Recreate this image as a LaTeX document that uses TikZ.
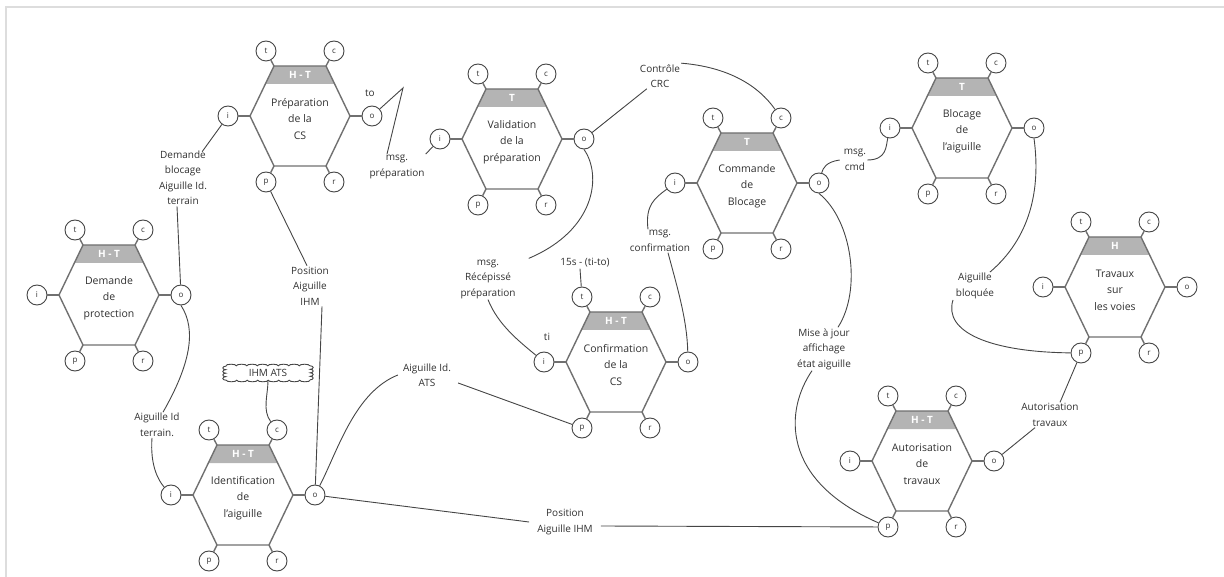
\documentclass[tikz,border=0pt]{standalone}
\usepackage{fontspec}
\setmainfont{Open Sans}
\usepackage{tikz}
\usetikzlibrary{decorations.pathmorphing}

\definecolor{hexgray}{HTML}{707070}
\definecolor{bandgray}{HTML}{B4B4B4}
\definecolor{linegray}{HTML}{454545}
\definecolor{textdark}{HTML}{303030}
\definecolor{framegray}{HTML}{DDDDDD}

\tikzset{
  hexline/.style={draw=hexgray, line width=1.4pt},
  port/.style={circle, draw=linegray, fill=white, line width=0.9pt, minimum size=20pt,
    inner sep=0pt, font=\fontsize{8}{8}\selectfont, text=textdark},
  hextext/.style={align=center, font=\fontsize{10.5}{16.5}\selectfont, text=textdark},
  bandtext/.style={text=white, font=\fontsize{10}{10}\selectfont\bfseries},
  msgtext/.style={align=center, font=\fontsize{10}{15.5}\selectfont, text=textdark, inner sep=1pt},
  link/.style={draw=linegray, line width=0.9pt},
  cloudlong/.style={link, decorate, decoration={bumps, segment length=21pt, amplitude=1.6pt}},
  cloudend/.style={link, decorate, decoration={bumps, segment length=7pt, amplitude=3pt}},
}

% hexagon with its six ports: name, x, y, band, text
\newcommand{\hexblock}[5]{%
  \begin{scope}[shift={(#2,#3)}]
    \fill[bandgray] (-26,-50) -- (26,-50) -- (34.6,-32) -- (-34.6,-32) -- cycle;
    \node[bandtext] at (0,-41) {#4};
    \draw[hexline] (-50,0) -- (-26,-50) -- (26,-50) -- (50,0) -- (26,50) -- (-26,50) -- cycle;
    \node[hextext] (#1) at (0,3) {#5};
    \node[port] (#1-t) at (-34,-65) {t};
    \node[port] (#1-c) at (34,-65) {c};
    \node[port] (#1-i) at (-72,0) {i};
    \node[port] (#1-o) at (72,0) {o};
    \node[port] (#1-p) at (-34,66) {p};
    \node[port] (#1-r) at (34,66) {r};
    \draw[hexline] (-26,-50) -- (#1-t);
    \draw[hexline] (26,-50) -- (#1-c);
    \draw[hexline] (-50,0) -- (#1-i);
    \draw[hexline] (50,0) -- (#1-o);
    \draw[hexline] (-26,50) -- (#1-p);
    \draw[hexline] (26,50) -- (#1-r);
  \end{scope}}

\begin{document}
\begin{tikzpicture}[x=1pt, y=-1pt]
    \useasboundingbox (0,0) rectangle (1224,577);
    \draw[framegray, line width=1.5pt] (6,577) -- (6,7) -- (1224,7);

    % blocks
    \hexblock{prot}{109}{295}{H - T}{Demande\\de\\protection}
    \hexblock{prep}{300}{116}{H - T}{Préparation\\de la\\CS}
    \hexblock{valid}{512}{139}{T}{Validation\\de la\\préparation}
    \hexblock{cmd}{747}{183}{T}{Commande\\de\\Blocage}
    \hexblock{bloc}{962}{128}{T}{Blocage\\de\\l'aiguille}
    \hexblock{trav}{1115}{287}{H}{Travaux\\sur\\les voies}
    \hexblock{auto}{922}{461}{H - T}{Autorisation\\de\\travaux}
    \hexblock{ident}{243}{495}{H - T}{Identification\\de\\l'aiguille}
    \hexblock{conf}{616}{362}{H - T}{Confirmation\\de la\\CS}

    % messages
    \node[msgtext] (demblo) at (183,178) {Demande\\blocage\\Aiguille Id.\\terrain};
    \node[msgtext] (aigter) at (157,425) {Aiguille Id\\terrain.};
    \node[msgtext] (to) at (370,93) {to};
    \node[msgtext] (msgprep) at (397,167) {msg.\\préparation};
    \node[msgtext] (crc) at (660,76) {Contrôle\\CRC};
    \node[msgtext] (recep) at (488,279) {msg.\\Récépissé\\préparation};
    \node[msgtext] (delai) at (585,263) {15s - (ti-to)};
    \node[msgtext] (ti) at (547,337) {ti};
    \node[msgtext] (msgconf) at (660,241) {msg.\\confirmation};
    \node[msgtext] (msgcmd) at (855,160) {msg.\\cmd};
    \node[msgtext] (majaff) at (824,349) {Mise à jour\\affichage\\état aiguille};
    \node[msgtext] (aigblo) at (975,286) {Aiguille\\bloquée};
    \node[msgtext] (autotr) at (1050,415) {Autorisation\\travaux};
    \node[msgtext] (posup) at (310,286) {Position\\Aiguille\\IHM};
    \node[msgtext] (posdown) at (565,522) {Position\\Aiguille IHM};
    \node[msgtext] (aigats) at (427,375) {Aiguille Id.\\ATS};
    \node[msgtext, minimum width=84pt, minimum height=14pt, inner sep=0pt] (ihmats) at (268,373) {IHM ATS};
    \draw[cloudlong] (ihmats.north west) -- (ihmats.north east);
    \draw[cloudend] (ihmats.north east) -- (ihmats.south east);
    \draw[cloudlong] (ihmats.south east) -- (ihmats.south west);
    \draw[cloudend] (ihmats.south west) -- (ihmats.north west);
    \coordinate (tobend) at (403,88);

    % links
    \draw[link] (prot-o) -- ([xshift=-6pt]demblo.south);
    \draw[link] ([xshift=-6pt,yshift=-2pt]demblo.north east) -- (prep-i);
    \draw[link] (prot-o.south) .. controls (197,330) and (190,365) .. ([xshift=6pt]aigter.north);
    \draw[link] ([xshift=-5pt]aigter.south) .. controls (150,465) and (158,480) .. (ident-i);
    \draw[link] (prep-o) -- (tobend) -- ([xshift=-10pt]msgprep.north);
    \draw[link] (msgprep.north east) -- (valid-i);
    \draw[link] (valid-o) -- ([xshift=8pt]crc.south west);
    \draw[link] (crc.north east) .. controls (740,68) and (765,95) .. (cmd-c);
    \draw[link] (valid-o.south) .. controls (602,175) and (596,230) .. ([xshift=12pt]recep.north east);
    \draw[link] (recep.south) .. controls (498,325) and (520,342) .. (conf-i);
    \draw[link] ([xshift=-5pt]delai.south) -- (conf-t);
    \draw[link] (cmd-i) .. controls (655,198) and (645,205) .. ([xshift=-12pt]msgconf.north);
    \draw[link] ([xshift=8pt]msgconf.south) .. controls (678,290) and (687,320) .. (conf-o);
    \draw[link] (cmd-o) .. controls (823,168) and (826,162) .. ([xshift=-3pt]msgcmd.west);
    \draw[link] (msgcmd.east) .. controls (887,160) and (886,146) .. (bloc-i);
    \draw[link] (cmd-o.south) .. controls (852,220) and (862,290) .. ([xshift=14pt]majaff.north);
    \draw[link] ([xshift=-12pt]majaff.south) .. controls (785,410) and (780,480) .. (auto-p);
    \draw[link] (bloc-o.south) .. controls (1041,190) and (1030,238) .. ([xshift=15pt]aigblo.north);
    \draw[link] ([xshift=-22pt]aigblo.south) .. controls (943,332) and (990,352) .. (trav-p);
    \draw[link] (trav-p) -- ([xshift=10pt]autotr.north);
    \draw[link] ([xshift=-15pt]autotr.south) -- (auto-o);
    \draw[link] (ident-o) -- ([xshift=-7pt]posdown.west);
    \draw[link] ([xshift=7pt,yshift=-4pt]posdown.east) -- (auto-p);
    \draw[link] (ident-o) -- ([xshift=12pt]posup.south);
    \draw[link] ([xshift=-3pt]posup.north) -- (prep-p);
    \draw[link] (ident-o) .. controls (338,450) and (355,392) .. ([xshift=-4pt]aigats.west);
    \draw[link] ([xshift=6pt,yshift=-8pt]aigats.east) -- (conf-p);
    \draw[link] (ident-c) .. controls (262,410) and (268,395) .. (ihmats.south);
\end{tikzpicture}
\end{document}
